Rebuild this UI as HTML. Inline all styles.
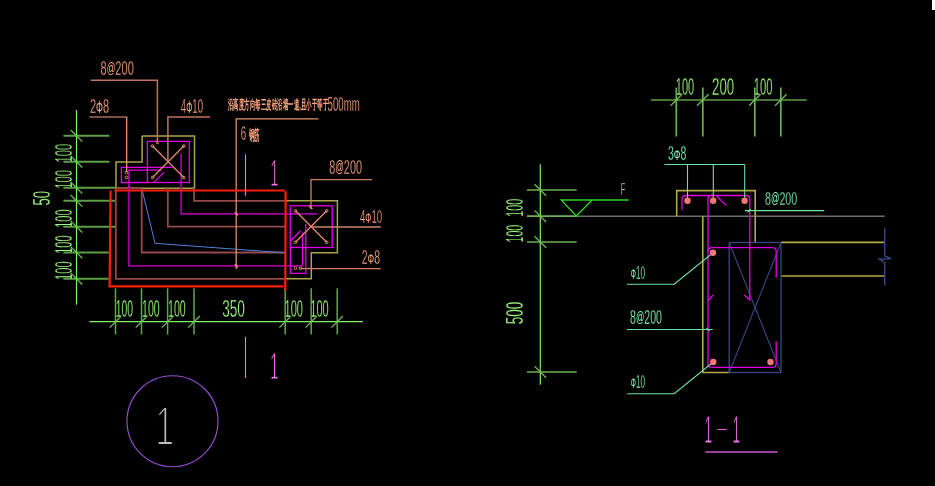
<!DOCTYPE html>
<html><head><meta charset="utf-8"><title>CAD</title>
<style>
html,body{margin:0;padding:0;background:#000;overflow:hidden}
svg{display:block}
text{font-family:"Liberation Sans",sans-serif}
</style></head>
<body>
<svg width="935" height="486" viewBox="0 0 935 486">
<rect x="0" y="0" width="935" height="486" fill="#000"/>
<g opacity="0.995">
<line x1="63.4" y1="135.8" x2="109.5" y2="135.8" stroke="#5fa04b" stroke-width="2"/>
<line x1="63.4" y1="161.7" x2="109.5" y2="161.7" stroke="#5fa04b" stroke-width="2"/>
<line x1="63.4" y1="187.8" x2="115.5" y2="187.8" stroke="#5fa04b" stroke-width="2"/>
<line x1="63.4" y1="200.8" x2="115.8" y2="200.8" stroke="#5fa04b" stroke-width="2"/>
<line x1="63.4" y1="226.7" x2="115.8" y2="226.7" stroke="#5fa04b" stroke-width="2"/>
<line x1="63.4" y1="252.5" x2="108.7" y2="252.5" stroke="#5fa04b" stroke-width="2"/>
<line x1="63.4" y1="278.7" x2="108.7" y2="278.7" stroke="#5fa04b" stroke-width="2"/>
<line x1="76.5" y1="110" x2="76.5" y2="304.7" stroke="#8cf06e" stroke-width="1.2"/>
<line x1="70.7" y1="130.0" x2="82.3" y2="141.60000000000002" stroke="#6ebe55" stroke-width="1.3"/>
<line x1="70.7" y1="155.89999999999998" x2="82.3" y2="167.5" stroke="#6ebe55" stroke-width="1.3"/>
<line x1="70.7" y1="182.0" x2="82.3" y2="193.60000000000002" stroke="#6ebe55" stroke-width="1.3"/>
<line x1="70.7" y1="195.0" x2="82.3" y2="206.60000000000002" stroke="#6ebe55" stroke-width="1.3"/>
<line x1="70.7" y1="220.89999999999998" x2="82.3" y2="232.5" stroke="#6ebe55" stroke-width="1.3"/>
<line x1="70.7" y1="246.7" x2="82.3" y2="258.3" stroke="#6ebe55" stroke-width="1.3"/>
<line x1="70.7" y1="272.9" x2="82.3" y2="284.5" stroke="#6ebe55" stroke-width="1.3"/>
<text transform="translate(71.76,162.60) rotate(-90) scale(0.4758,1)" font-size="23.66" fill="#a0ff80" font-family='"Liberation Sans", sans-serif' stroke="#000" stroke-width="0.3">100</text>
<text transform="translate(71.76,188.80) rotate(-90) scale(0.4758,1)" font-size="23.66" fill="#a0ff80" font-family='"Liberation Sans", sans-serif' stroke="#000" stroke-width="0.3">100</text>
<text transform="translate(71.76,227.80) rotate(-90) scale(0.4682,1)" font-size="23.66" fill="#a0ff80" font-family='"Liberation Sans", sans-serif' stroke="#000" stroke-width="0.3">100</text>
<text transform="translate(71.76,253.80) rotate(-90) scale(0.4656,1)" font-size="23.66" fill="#a0ff80" font-family='"Liberation Sans", sans-serif' stroke="#000" stroke-width="0.3">100</text>
<text transform="translate(71.76,279.90) rotate(-90) scale(0.4707,1)" font-size="23.66" fill="#a0ff80" font-family='"Liberation Sans", sans-serif' stroke="#000" stroke-width="0.3">100</text>
<text transform="translate(50.06,205.50) rotate(-90) scale(0.5493,1)" font-size="23.94" fill="#a0ff80" font-family='"Liberation Sans", sans-serif' stroke="#000" stroke-width="0.3">50</text>
<line x1="115.5" y1="288.3" x2="115.5" y2="334.5" stroke="#64a84e" stroke-width="1.5"/>
<line x1="141.5" y1="288.3" x2="141.5" y2="334.5" stroke="#64a84e" stroke-width="1.5"/>
<line x1="167.6" y1="288.3" x2="167.6" y2="334.5" stroke="#64a84e" stroke-width="1.5"/>
<line x1="194" y1="288.3" x2="194" y2="334.5" stroke="#64a84e" stroke-width="1.5"/>
<line x1="285.2" y1="288.3" x2="285.2" y2="334.5" stroke="#64a84e" stroke-width="1.5"/>
<line x1="311.2" y1="288.3" x2="311.2" y2="334.5" stroke="#64a84e" stroke-width="1.5"/>
<line x1="337.2" y1="288.3" x2="337.2" y2="334.5" stroke="#64a84e" stroke-width="1.5"/>
<line x1="89.5" y1="321.6" x2="363" y2="321.6" stroke="#8cf06e" stroke-width="1.2"/>
<line x1="109.7" y1="327.6" x2="121.3" y2="316.0" stroke="#6ebe55" stroke-width="1.3"/>
<line x1="135.7" y1="327.6" x2="147.3" y2="316.0" stroke="#6ebe55" stroke-width="1.3"/>
<line x1="161.79999999999998" y1="327.6" x2="173.4" y2="316.0" stroke="#6ebe55" stroke-width="1.3"/>
<line x1="188.2" y1="327.6" x2="199.8" y2="316.0" stroke="#6ebe55" stroke-width="1.3"/>
<line x1="279.4" y1="327.6" x2="291.0" y2="316.0" stroke="#6ebe55" stroke-width="1.3"/>
<line x1="305.4" y1="327.6" x2="317.0" y2="316.0" stroke="#6ebe55" stroke-width="1.3"/>
<line x1="331.4" y1="327.6" x2="343.0" y2="316.0" stroke="#6ebe55" stroke-width="1.3"/>
<text transform="translate(115.80,316.57) scale(0.4456,1)" font-size="23.38" fill="#a0ff80" font-family='"Liberation Sans", sans-serif' stroke="#000" stroke-width="0.3">100</text>
<text transform="translate(142.00,316.57) scale(0.4533,1)" font-size="23.38" fill="#a0ff80" font-family='"Liberation Sans", sans-serif' stroke="#000" stroke-width="0.3">100</text>
<text transform="translate(168.00,316.57) scale(0.4559,1)" font-size="23.38" fill="#a0ff80" font-family='"Liberation Sans", sans-serif' stroke="#000" stroke-width="0.3">100</text>
<text transform="translate(222.20,316.57) scale(0.5839,1)" font-size="23.38" fill="#a0ff80" font-family='"Liberation Sans", sans-serif' stroke="#000" stroke-width="0.3">350</text>
<text transform="translate(284.50,316.57) scale(0.4738,1)" font-size="23.38" fill="#a0ff80" font-family='"Liberation Sans", sans-serif' stroke="#000" stroke-width="0.3">100</text>
<text transform="translate(310.30,316.57) scale(0.4738,1)" font-size="23.38" fill="#a0ff80" font-family='"Liberation Sans", sans-serif' stroke="#000" stroke-width="0.3">100</text>
<polyline points="142.1,136 194.5,136 194.5,188.2 116,188.2 116,162.1 142.1,162.1 142.1,136" fill="none" stroke="#aaa84b" stroke-width="1.5"/>
<polyline points="285.5,200.8 337.4,200.8 337.4,252.8 311.3,252.8 311.3,278.8 285.5,278.8" fill="none" stroke="#aaa84b" stroke-width="1.5"/>
<polyline points="115.8,188 115.8,278.8 285.5,278.8" fill="none" stroke="#964b4b" stroke-width="1.8"/>
<polyline points="141.7,188 141.7,252.5 285.5,252.5" fill="none" stroke="#964b4b" stroke-width="1.8"/>
<polyline points="167.8,188 167.8,226.7 285.5,226.7" fill="none" stroke="#964b4b" stroke-width="1.8"/>
<polyline points="194,188 194,200.8 285.5,200.8" fill="none" stroke="#964b4b" stroke-width="1.8"/>
<line x1="115.8" y1="188.2" x2="141.7" y2="188.2" stroke="#964b4b" stroke-width="1.8"/>
<polyline points="128.8,186 128.8,265.8 302.5,265.8" fill="none" stroke="#a000a0" stroke-width="1.8"/>
<polyline points="181.2,153.4 181.2,213.8 317.5,213.8" fill="none" stroke="#a000a0" stroke-width="1.8"/>
<polyline points="141.7,188 155,243.3 284.5,252.8" fill="none" stroke="#5482dc" stroke-width="1.0"/>
<rect x="147.4" y="141.4" width="41.9" height="41.1" fill="none" stroke="#e600e6" stroke-width="1.3"/>
<polyline points="172.2,167.4 121.4,167.4 121.4,182.5 147.4,182.5" fill="none" stroke="#e600e6" stroke-width="1.3"/>
<polyline points="161.5,170.1 129,170.1 129,188" fill="none" stroke="#e600e6" stroke-width="1.3"/>
<line x1="154.1" y1="182.1" x2="164.1" y2="172.4" stroke="#e600e6" stroke-width="1.3"/>
<rect x="290.2" y="205.8" width="42" height="41.7" fill="none" stroke="#e600e6" stroke-width="1.3"/>
<polyline points="290.4,247.5 290.4,273.3 305.8,273.3 305.8,224" fill="none" stroke="#e600e6" stroke-width="1.3"/>
<line x1="302.5" y1="232.5" x2="302.5" y2="265.8" stroke="#e600e6" stroke-width="1.3"/>
<line x1="290.8" y1="240.8" x2="300.5" y2="230.8" stroke="#e600e6" stroke-width="1.3"/>
<line x1="152.5" y1="146" x2="183.8" y2="177.5" stroke="#e68c69" stroke-width="1.3"/>
<line x1="183.8" y1="146" x2="152.5" y2="177.5" stroke="#e68c69" stroke-width="1.3"/>
<line x1="295.5" y1="210.8" x2="326.7" y2="242.3" stroke="#e68c69" stroke-width="1.3"/>
<line x1="326.7" y1="210.8" x2="295.5" y2="242.3" stroke="#e68c69" stroke-width="1.3"/>
<circle cx="152.5" cy="146" r="1.35" fill="none" stroke="#f09670" stroke-width="0.9"/>
<circle cx="183.8" cy="146" r="1.35" fill="none" stroke="#f09670" stroke-width="0.9"/>
<circle cx="152.5" cy="177.5" r="1.35" fill="none" stroke="#f09670" stroke-width="0.9"/>
<circle cx="183.8" cy="177.5" r="1.35" fill="none" stroke="#f09670" stroke-width="0.9"/>
<circle cx="126.4" cy="172.4" r="1.35" fill="none" stroke="#f09670" stroke-width="0.9"/>
<circle cx="126.4" cy="177.5" r="1.35" fill="none" stroke="#f09670" stroke-width="0.9"/>
<circle cx="295.5" cy="210.8" r="1.35" fill="none" stroke="#f09670" stroke-width="0.9"/>
<circle cx="326.7" cy="210.8" r="1.35" fill="none" stroke="#f09670" stroke-width="0.9"/>
<circle cx="295.5" cy="242.3" r="1.35" fill="none" stroke="#f09670" stroke-width="0.9"/>
<circle cx="326.7" cy="242.3" r="1.35" fill="none" stroke="#f09670" stroke-width="0.9"/>
<circle cx="295.5" cy="268.3" r="1.35" fill="none" stroke="#f09670" stroke-width="0.9"/>
<circle cx="300.5" cy="268.3" r="1.35" fill="none" stroke="#f09670" stroke-width="0.9"/>
<polyline points="90.8,80.3 157.4,80.3 157.4,144" fill="none" stroke="#c4765c" stroke-width="1.5"/>
<line x1="155.6" y1="141.2" x2="158.6" y2="144.2" stroke="#c4765c" stroke-width="1.2"/>
<polyline points="89.5,117 126.7,117 126.7,172" fill="none" stroke="#ffa07d" stroke-width="1.2"/>
<polyline points="210,117 167.9,117 167.9,161.7" fill="none" stroke="#c4765c" stroke-width="1.5"/>
<polyline points="318.5,118.8 236.2,118.8 236.2,269" fill="none" stroke="#e8946e" stroke-width="1.25"/>
<line x1="234.8" y1="212.2" x2="238" y2="215.4" stroke="#ffa07d" stroke-width="1.2"/>
<line x1="234.8" y1="264.2" x2="238" y2="267.4" stroke="#ffa07d" stroke-width="1.2"/>
<polyline points="372,179.6 311,179.6 311,209" fill="none" stroke="#d08464" stroke-width="1.3"/>
<line x1="309.2" y1="206" x2="312.4" y2="209.2" stroke="#ffa07d" stroke-width="1.2"/>
<line x1="311.2" y1="227" x2="380.8" y2="227" stroke="#d08464" stroke-width="1.3"/>
<line x1="300.5" y1="268.7" x2="380.8" y2="268.7" stroke="#d08464" stroke-width="1.3"/>
<text transform="translate(100.50,74.81) scale(0.5718,1)" font-size="19.30" fill="#ffa684" font-family='"Liberation Sans", sans-serif' stroke="#000" stroke-width="0.3">8<tspan font-size="15.05" dy="-2.32" stroke="none">@</tspan><tspan dy="2.32">200</tspan></text>
<text transform="translate(90.00,112.80) scale(0.5487,1)" font-size="20.00" fill="#ffa684" font-family='"Liberation Sans", sans-serif' stroke="#000" stroke-width="0.3">2<tspan font-size="16.00" stroke="none">Φ</tspan><tspan>8</tspan></text>
<text transform="translate(180.80,112.80) scale(0.4817,1)" font-size="20.00" fill="#ffa684" font-family='"Liberation Sans", sans-serif' stroke="#000" stroke-width="0.3">4<tspan font-size="16.00" stroke="none">Φ</tspan><tspan>10</tspan></text>
<text transform="translate(329.20,174.40) scale(0.5434,1)" font-size="20.00" fill="#ffa684" font-family='"Liberation Sans", sans-serif' stroke="#000" stroke-width="0.3">8<tspan font-size="15.60" dy="-2.40" stroke="none">@</tspan><tspan dy="2.40">200</tspan></text>
<text transform="translate(360.00,222.61) scale(0.5029,1)" font-size="19.15" fill="#ffa684" font-family='"Liberation Sans", sans-serif' stroke="#000" stroke-width="0.3">4<tspan font-size="15.32" stroke="none">Φ</tspan><tspan>10</tspan></text>
<text transform="translate(361.70,264.01) scale(0.5421,1)" font-size="19.30" fill="#ffa684" font-family='"Liberation Sans", sans-serif' stroke="#000" stroke-width="0.3">2<tspan font-size="15.44" stroke="none">Φ</tspan><tspan>8</tspan></text>
<text transform="translate(327.60,110.70) scale(0.4847,1)" font-size="19.86" fill="#ffa684" font-family='"Liberation Sans", sans-serif' stroke="#000" stroke-width="0.3">500mm</text>
<text transform="translate(240.80,140.00) scale(0.4865,1)" font-size="20.00" fill="#ffa684" font-family='"Liberation Sans", sans-serif' stroke="#000" stroke-width="0.3">6</text>
<text transform="translate(228.00,109.44) scale(0.4206,1)" font-size="13.46" fill="#ffa682" font-family='"Liberation Sans", "Noto Sans CJK SC", sans-serif' font-weight="bold">沿高度方向每三皮砖沿墙一道,且小于等于</text>
<text transform="translate(249.00,139.68) scale(0.3610,1)" font-size="14.68" fill="#ffa682" font-family='"Liberation Sans", "Noto Sans CJK SC", sans-serif' font-weight="bold">钢筋</text>
<line x1="114.4" y1="190.5" x2="284.8" y2="190.5" stroke="#ff1e0a" stroke-width="2.2"/>
<line x1="110.6" y1="190.6" x2="109.6" y2="287.4" stroke="#ff1e0a" stroke-width="2.2"/>
<line x1="110.3" y1="286.3" x2="283.3" y2="286.3" stroke="#ff1e0a" stroke-width="2.2"/>
<line x1="285.6" y1="191.2" x2="285.3" y2="290.8" stroke="#ff1e0a" stroke-width="2.2"/>
<line x1="245.5" y1="154.2" x2="245.5" y2="195.8" stroke="#f078f0" stroke-width="1.1"/>
<line x1="245.5" y1="336.7" x2="245.5" y2="378" stroke="#f078f0" stroke-width="1.1"/>
<text transform="translate(270.30,185.83) scale(0.4022,1)" font-size="37.18" fill="#f078f0" font-family='"Liberation Sans", sans-serif' stroke="#000" stroke-width="1.0">1</text>
<text transform="translate(270.10,378.62) scale(0.4073,1)" font-size="37.61" fill="#f078f0" font-family='"Liberation Sans", sans-serif' stroke="#000" stroke-width="1.0">1</text>
<circle cx="172.5" cy="421.2" r="45.5" fill="none" stroke="#9650d2" stroke-width="1.15"/>
<text transform="translate(155.50,445.24) scale(0.5946,1)" font-size="56.06" fill="#c0c0c0" font-family='"Liberation Sans", sans-serif' stroke="#000" stroke-width="2.2">1</text>
<line x1="676.3" y1="87.5" x2="676.3" y2="136.5" stroke="#6cb455" stroke-width="1.7"/>
<line x1="702.8" y1="87.5" x2="702.8" y2="136.5" stroke="#6cb455" stroke-width="1.7"/>
<line x1="754.8" y1="87.5" x2="754.8" y2="136.5" stroke="#6cb455" stroke-width="1.7"/>
<line x1="780.8" y1="87.5" x2="780.8" y2="136.5" stroke="#6cb455" stroke-width="1.7"/>
<line x1="650.8" y1="100" x2="806.7" y2="100" stroke="#8cf06e" stroke-width="1.2"/>
<line x1="670.5" y1="105.8" x2="682.0999999999999" y2="94.2" stroke="#6ebe55" stroke-width="1.3"/>
<line x1="697.0" y1="105.8" x2="708.5999999999999" y2="94.2" stroke="#6ebe55" stroke-width="1.3"/>
<line x1="749.0" y1="105.8" x2="760.5999999999999" y2="94.2" stroke="#6ebe55" stroke-width="1.3"/>
<line x1="775.0" y1="105.8" x2="786.5999999999999" y2="94.2" stroke="#6ebe55" stroke-width="1.3"/>
<text transform="translate(675.80,95.37) scale(0.4770,1)" font-size="23.10" fill="#a0ff80" font-family='"Liberation Sans", sans-serif' stroke="#000" stroke-width="0.3">100</text>
<text transform="translate(712.00,95.37) scale(0.5755,1)" font-size="23.10" fill="#a0ff80" font-family='"Liberation Sans", sans-serif' stroke="#000" stroke-width="0.3">200</text>
<text transform="translate(753.70,95.37) scale(0.4874,1)" font-size="23.10" fill="#a0ff80" font-family='"Liberation Sans", sans-serif' stroke="#000" stroke-width="0.3">100</text>
<line x1="527" y1="190" x2="576.7" y2="190" stroke="#6cb455" stroke-width="1.7"/>
<line x1="527" y1="216.2" x2="576.7" y2="216.2" stroke="#6cb455" stroke-width="1.7"/>
<line x1="527" y1="242" x2="576.7" y2="242" stroke="#6cb455" stroke-width="1.7"/>
<line x1="527" y1="372" x2="576.7" y2="372" stroke="#6cb455" stroke-width="1.7"/>
<line x1="540.3" y1="164.2" x2="540.3" y2="384.7" stroke="#8cf06e" stroke-width="1.2"/>
<line x1="534.5" y1="184.2" x2="546.0999999999999" y2="195.8" stroke="#6ebe55" stroke-width="1.3"/>
<line x1="534.5" y1="210.39999999999998" x2="546.0999999999999" y2="222.0" stroke="#6ebe55" stroke-width="1.3"/>
<line x1="534.5" y1="236.2" x2="546.0999999999999" y2="247.8" stroke="#6ebe55" stroke-width="1.3"/>
<line x1="534.5" y1="366.2" x2="546.0999999999999" y2="377.8" stroke="#6ebe55" stroke-width="1.3"/>
<text transform="translate(523.06,216.70) rotate(-90) scale(0.4477,1)" font-size="23.94" fill="#a0ff80" font-family='"Liberation Sans", sans-serif' stroke="#000" stroke-width="0.3">100</text>
<text transform="translate(523.06,242.50) rotate(-90) scale(0.4452,1)" font-size="23.94" fill="#a0ff80" font-family='"Liberation Sans", sans-serif' stroke="#000" stroke-width="0.3">100</text>
<text transform="translate(522.76,324.20) rotate(-90) scale(0.5562,1)" font-size="24.23" fill="#a0ff80" font-family='"Liberation Sans", sans-serif' stroke="#000" stroke-width="0.3">500</text>
<line x1="576.5" y1="216.2" x2="884.7" y2="216.2" stroke="#6e6e6e" stroke-width="1.5"/>
<polyline points="628.7,200 561.2,200 576.3,216 592.2,200" fill="none" stroke="#28dc1e" stroke-width="1.3"/>
<text transform="translate(620.80,194.70) scale(0.4465,1)" font-size="16.52" fill="#c8c8c8" font-family='"Liberation Sans", sans-serif' stroke="#000" stroke-width="0.3">F</text>
<polyline points="676.7,216.2 676.7,190.6 755.2,190.6 755.2,242.5" fill="none" stroke="#b4aa46" stroke-width="1.6"/>
<polyline points="702.8,216.2 702.8,372.5 729.2,372.5" fill="none" stroke="#b4aa46" stroke-width="1.6"/>
<line x1="781" y1="242.4" x2="884.7" y2="242.4" stroke="#b4aa46" stroke-width="1.6"/>
<line x1="781" y1="276" x2="884.7" y2="276" stroke="#b4aa46" stroke-width="1.6"/>
<rect x="729.2" y="242.5" width="51.8" height="130" fill="none" stroke="#3c4784" stroke-width="1.3"/>
<line x1="729.2" y1="242.5" x2="781" y2="372.5" stroke="#3c4784" stroke-width="1.1"/>
<line x1="781" y1="242.5" x2="729.2" y2="372.5" stroke="#3c4784" stroke-width="1.1"/>
<polyline points="884.7,228.3 884.7,256 891.3,258.6 879,259.2 884.7,262.6 884.7,285.5" fill="none" stroke="#3c4784" stroke-width="1.4"/>
<path d="M682,210 V199.5 Q682,195.5 686,195.5 H745.8 Q749.8,195.5 749.8,199.5 V300 L744.2,295" fill="none" stroke="#e400e4" stroke-width="1.3"/>
<path d="M714,195.5 H712 Q708,195.5 708,199.5 V363.4 Q708,367.4 712,367.4 H772.2 Q776.2,367.4 776.2,363.4 V341.2" fill="none" stroke="#e400e4" stroke-width="1.3"/>
<path d="M708,251.6 Q708,247.6 712,247.6 H772.2 Q776.2,247.6 776.2,251.6 V277.5" fill="none" stroke="#e400e4" stroke-width="1.3"/>
<line x1="708.3" y1="300.3" x2="713.3" y2="295" stroke="#e600e6" stroke-width="1.3"/>
<line x1="716.5" y1="195.8" x2="726.3" y2="205.6" stroke="#e600e6" stroke-width="1.3"/>
<line x1="664.5" y1="164.5" x2="744.7" y2="164.5" stroke="#6ee6a5" stroke-width="1.1"/>
<line x1="687.5" y1="164.5" x2="687.5" y2="200" stroke="#6ee6a5" stroke-width="1.1"/>
<line x1="713.3" y1="164.5" x2="713.3" y2="200" stroke="#6ee6a5" stroke-width="1.1"/>
<line x1="744.7" y1="164.5" x2="744.7" y2="200" stroke="#6ee6a5" stroke-width="1.1"/>
<line x1="744.7" y1="210.6" x2="824.2" y2="210.6" stroke="#6ee6a5" stroke-width="1.1"/>
<line x1="747.6" y1="212.4" x2="750.8" y2="209" stroke="#6ee6a5" stroke-width="1.1"/>
<polyline points="627,284.3 674.2,284.3 713,252.8" fill="none" stroke="#6ee6a5" stroke-width="1.1"/>
<line x1="627" y1="329.5" x2="712.8" y2="329.5" stroke="#6ee6a5" stroke-width="1.1"/>
<line x1="706.4" y1="327.8" x2="709.6" y2="331" stroke="#6ee6a5" stroke-width="1.1"/>
<polyline points="627.2,393.7 674.2,393.7 713.3,362" fill="none" stroke="#6ee6a5" stroke-width="1.1"/>
<circle cx="687.5" cy="200.7" r="3.2" fill="#f57878"/>
<circle cx="713.2" cy="200.7" r="3.2" fill="#f57878"/>
<circle cx="744.6" cy="200.7" r="3.2" fill="#f57878"/>
<circle cx="713" cy="252.8" r="3.2" fill="#f57878"/>
<circle cx="713.3" cy="362" r="3.2" fill="#f57878"/>
<circle cx="770.5" cy="362" r="3.2" fill="#f57878"/>
<text transform="translate(668.00,159.81) scale(0.5421,1)" font-size="19.30" fill="#80ffba" font-family='"Liberation Sans", sans-serif' stroke="#000" stroke-width="0.3">3<tspan font-size="15.44" stroke="none">Φ</tspan><tspan>8</tspan></text>
<text transform="translate(765.00,205.41) scale(0.5653,1)" font-size="18.87" fill="#80ffba" font-family='"Liberation Sans", sans-serif' stroke="#000" stroke-width="0.3">8<tspan font-size="14.72" dy="-2.26" stroke="none">@</tspan><tspan dy="2.26">200</tspan></text>
<text transform="translate(630.80,278.81) scale(0.4369,1)" font-size="18.59" fill="#80ffba" font-family='"Liberation Sans", sans-serif' stroke="#000" stroke-width="0.3"><tspan font-size="14.87" stroke="none">Φ</tspan><tspan>10</tspan></text>
<text transform="translate(630.00,324.41) scale(0.5455,1)" font-size="19.44" fill="#80ffba" font-family='"Liberation Sans", sans-serif' stroke="#000" stroke-width="0.3">8<tspan font-size="15.16" dy="-2.33" stroke="none">@</tspan><tspan dy="2.33">200</tspan></text>
<text transform="translate(630.80,388.12) scale(0.4505,1)" font-size="18.03" fill="#80ffba" font-family='"Liberation Sans", sans-serif' stroke="#000" stroke-width="0.3"><tspan font-size="14.42" stroke="none">Φ</tspan><tspan>10</tspan></text>
<text transform="translate(704.40,443.30) scale(0.3460,1)" font-size="39.58" fill="#f078f0" font-family='"Liberation Sans", sans-serif' stroke="#000" stroke-width="1.0">1</text>
<text transform="translate(715.60,431.50) scale(3.2877,1)" font-size="11.80" fill="#f078f0" font-family='"Liberation Sans", sans-serif' >-</text>
<text transform="translate(732.40,443.30) scale(0.3460,1)" font-size="39.58" fill="#f078f0" font-family='"Liberation Sans", sans-serif' stroke="#000" stroke-width="1.0">1</text>
<line x1="705.3" y1="452" x2="777.5" y2="452" stroke="#9a429a" stroke-width="1.9"/>
<rect x="932" y="0" width="3" height="10" fill="#ffffff"/>
</g>
</svg>
</body></html>
